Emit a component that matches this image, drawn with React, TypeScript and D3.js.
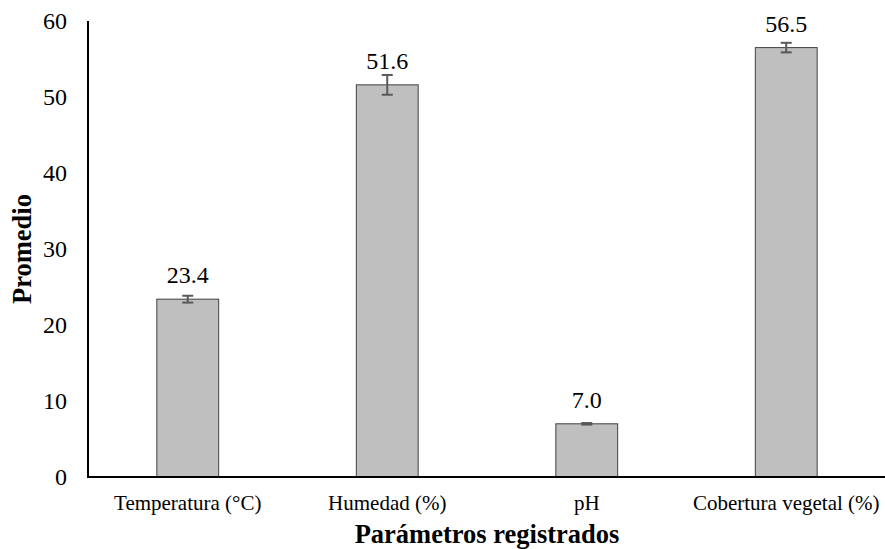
import React from "react";
import * as d3 from "d3";

const categories = ["Temperatura (°C)", "Humedad (%)", "pH", "Cobertura vegetal (%)"];
const means = [23.4, 51.6, 7.0, 56.5];
const errors = [0.45, 1.3, 0.1, 0.63];
const labels = ["23.4", "51.6", "7.0", "56.5"];
const yTicks = [0, 10, 20, 30, 40, 50, 60];

const W = 885;
const H = 549;
const FONT = "'Liberation Serif', 'Times New Roman', serif";

export default function App() {
  const x = d3.scaleBand<string>().domain(categories).range([88, 886]).paddingInner(0.69).paddingOuter(0.345);
  const y = d3.scaleLinear().domain([0, 60]).range([477, 21]);
  const cap = 5.5;
  return (
    <svg width={W} height={H} style={{ position: "absolute", left: 0, top: 0, background: "#fff" }}>
      {categories.map((c, i) => {
        const x0 = x(c)!;
        const bw = x.bandwidth();
        const cx = x0 + bw / 2;
        const yTop = y(means[i]);
        const yHi = y(means[i] + errors[i]);
        const yLo = y(means[i] - errors[i]);
        return (
          <g key={c}>
            <rect x={x0} y={yTop} width={bw} height={y(0) - yTop} fill="#bfbfbf" stroke="#404040" strokeWidth={1} />
            <line x1={cx} x2={cx} y1={yHi} y2={yLo} stroke="#595959" strokeWidth={2} />
            <line x1={cx - cap} x2={cx + cap} y1={yHi} y2={yHi} stroke="#595959" strokeWidth={2} />
            <line x1={cx - cap} x2={cx + cap} y1={yLo} y2={yLo} stroke="#595959" strokeWidth={2} />
            <text x={cx} y={yTop - 16} textAnchor="middle" fontFamily={FONT} fontSize={24} fill="#000">{labels[i]}</text>
            <text x={cx} y={510} textAnchor="middle" fontFamily={FONT} fontSize={21} fill="#000">{c}</text>
          </g>
        );
      })}
      <line x1={88} x2={88} y1={21} y2={478} stroke="#000" strokeWidth={2} />
      <line x1={87} x2={885} y1={477} y2={477} stroke="#000" strokeWidth={2} />
      {yTicks.map((t) => (
        <text key={t} x={67} y={y(t) + 8} textAnchor="end" fontFamily={FONT} fontSize={24} fill="#000">{t}</text>
      ))}
      <text x={487} y={543} textAnchor="middle" fontFamily={FONT} fontSize={26.5} fontWeight="bold" fill="#000">Parámetros registrados</text>
      <text transform={`translate(31,${(21 + 477) / 2}) rotate(-90)`} textAnchor="middle" fontFamily={FONT} fontSize={26.5} fontWeight="bold" fill="#000">Promedio</text>
    </svg>
  );
}
